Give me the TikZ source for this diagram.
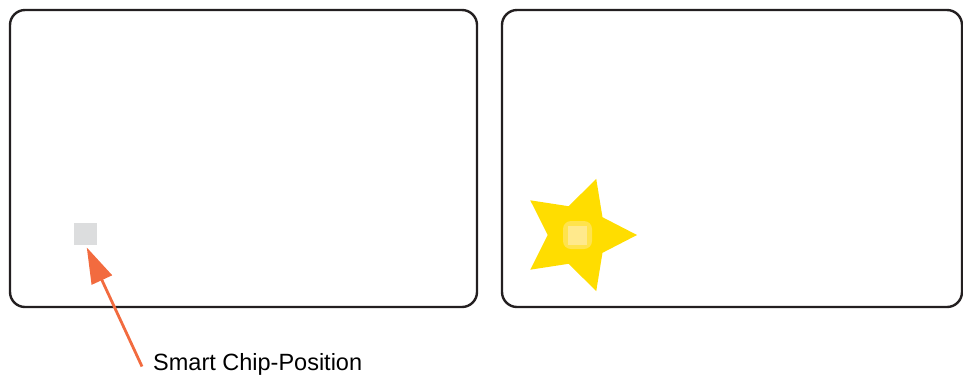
\documentclass[tikz,border=0pt]{standalone}
\usepackage{fontspec}
\setmainfont{Liberation Sans}
\usepackage{tikz}
\usetikzlibrary{arrows.meta,positioning,shapes.geometric}
\definecolor{cardline}{HTML}{231F20}
\definecolor{chipgray}{HTML}{DCDDDE}
\definecolor{pointer}{HTML}{F26B3F}
\definecolor{staryellow}{HTML}{FFDD00}
\definecolor{chiplight}{HTML}{FFE98C}
\definecolor{glow}{HTML}{FFE34D}
\begin{document}
\begin{tikzpicture}[x=1pt,y=-1pt,
  card/.style={draw=cardline,line width=2.4pt,rounded corners=15pt},
  chip/.style={rectangle,inner sep=0pt,minimum width=#1,minimum height=#1},
  label/.style={font=\fontsize{23.5}{28}\selectfont,anchor=west,inner xsep=11pt,inner ysep=0pt}]
  \useasboundingbox (0,0) rectangle (963,376);
  % card front and back
  \draw[card] (10,10) rectangle (477,307);
  \draw[card] (502,10) rectangle (962,307);
  % chip on the front card
  \node[chip=22pt,fill=chipgray,minimum width=23pt] (chip) at (85.5,233.5) {};
  \node[label] (chiplabel) at (142,364.5) {Smart Chip-Position};
  \draw[pointer,line width=2.8pt,-{Triangle[length=36pt,width=22pt]},shorten >=3pt] ([yshift=-2pt]chiplabel.west) -- (chip.south);
  % star with chip on the back card
  \node[star,star points=5,star point ratio=1.95,shape border rotate=-90,fill=staryellow,minimum size=118pt,inner sep=0pt] (burst) at (578,235) {};
  \fill[glow,rounded corners=8pt] (563,221) rectangle (592,249);
  \node[chip=19pt,fill=chiplight] (backchip) at (577.5,235) {};
\end{tikzpicture}
\end{document}
